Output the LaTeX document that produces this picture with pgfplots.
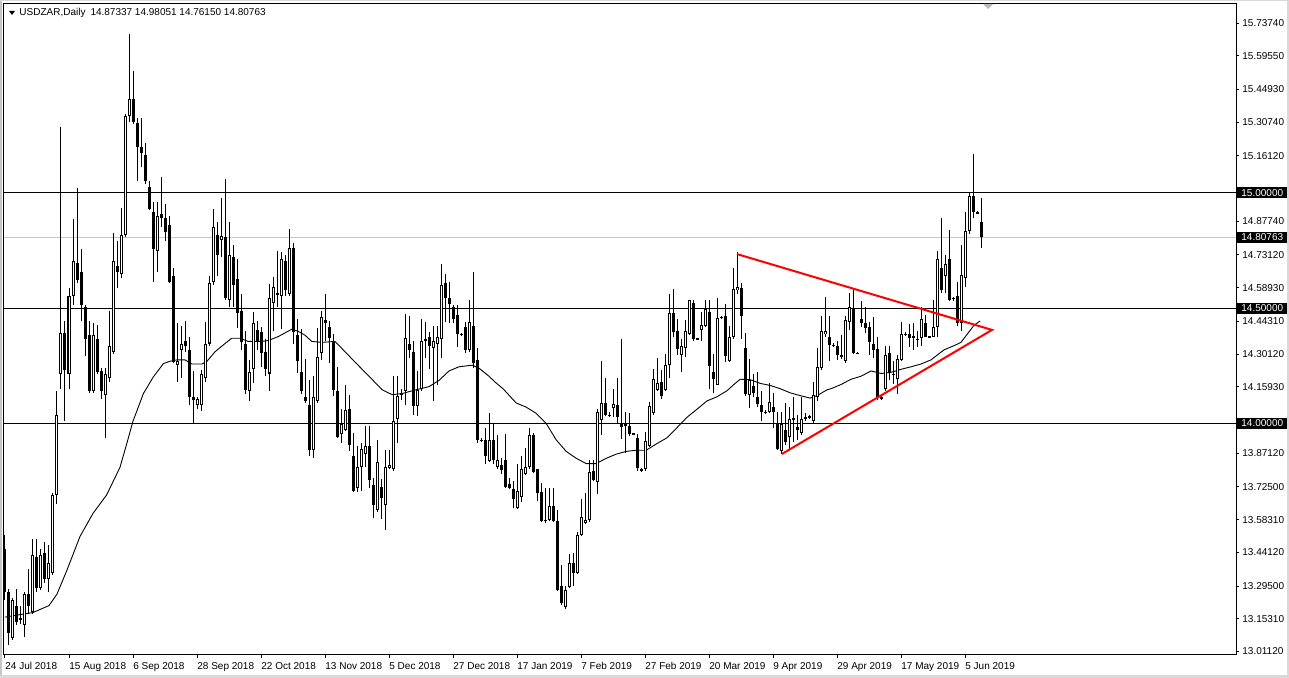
\documentclass[border=0pt]{standalone}
\usepackage{fontspec}
\setmainfont{Liberation Sans}
\usepackage{pgfplots}
\usepackage{pgfplotstable}
\pgfplotsset{compat=1.18}

% daily bars: index, open, high, low, close
\pgfplotstableread{
i O H L C
0 13.457 13.516 13.235 13.270
1 13.270 13.280 13.039 13.093
2 13.071 13.244 13.060 13.235
3 13.208 13.280 13.128 13.137
4 13.155 13.210 13.128 13.146
5 13.128 13.270 13.075 13.262
6 13.262 13.368 13.172 13.208
7 13.181 13.500 13.172 13.431
8 13.420 13.500 13.270 13.288
9 13.288 13.457 13.279 13.431
10 13.440 13.484 13.306 13.324
11 13.324 13.475 13.270 13.395
12 13.351 13.698 13.342 13.689
13 13.689 14.142 13.653 14.036
14 14.214 15.285 14.151 14.391
15 14.391 14.445 14.009 14.231
16 14.214 14.590 14.151 14.552
17 14.552 14.886 14.516 14.703
18 14.698 15.023 14.609 14.623
19 14.658 14.756 14.445 14.516
20 14.507 14.516 14.294 14.365
21 14.383 14.445 14.133 14.142
22 14.142 14.436 14.133 14.383
23 14.365 14.427 14.214 14.222
24 14.228 14.240 14.107 14.142
25 14.125 14.240 13.938 14.214
26 14.196 14.489 14.178 14.338
27 14.311 14.827 14.302 14.703
28 14.685 14.792 14.587 14.658
29 14.649 14.934 14.632 14.819
30 14.819 15.343 14.810 15.335
31 15.335 15.690 15.308 15.406
32 15.406 15.530 15.299 15.308
33 15.302 15.326 15.050 15.201
34 15.201 15.326 15.112 15.174
35 15.165 15.219 15.041 15.050
36 15.028 15.050 14.925 14.929
37 14.916 14.961 14.614 14.756
38 14.747 14.961 14.658 14.899
39 14.907 15.068 14.854 14.893
40 14.893 14.952 14.790 14.830
41 14.860 14.899 14.609 14.614
42 14.641 14.673 14.263 14.267
43 14.253 14.436 14.178 14.270
44 14.317 14.423 14.196 14.347
45 14.356 14.445 14.311 14.338
46 14.317 14.377 14.080 14.116
47 14.116 14.228 14.000 14.103
48 14.080 14.116 14.062 14.107
49 14.080 14.231 14.053 14.214
50 14.199 14.441 14.178 14.347
51 14.347 14.641 14.338 14.609
52 14.614 14.929 14.601 14.851
53 14.819 14.872 14.641 14.733
54 14.795 14.979 14.721 14.815
55 14.810 15.059 14.534 14.543
56 14.534 14.872 14.507 14.730
57 14.724 14.774 14.507 14.601
58 14.628 14.712 14.413 14.480
59 14.489 14.560 14.317 14.352
60 14.347 14.400 14.128 14.146
61 14.139 14.276 14.098 14.222
62 14.235 14.484 14.174 14.436
63 14.406 14.445 14.320 14.352
64 14.395 14.418 14.246 14.306
65 14.311 14.365 14.205 14.235
66 14.217 14.605 14.139 14.543
67 14.521 14.637 14.400 14.591
68 14.566 14.747 14.507 14.559
69 14.552 14.744 14.409 14.712
70 14.706 14.730 14.552 14.578
71 14.560 14.845 14.552 14.762
72 14.762 14.783 14.347 14.395
73 14.383 14.454 14.217 14.270
74 14.222 14.409 14.128 14.139
75 14.116 14.279 14.089 14.098
76 14.080 14.187 13.858 13.884
77 13.884 14.205 13.849 14.116
78 14.098 14.413 14.089 14.288
79 14.306 14.489 14.276 14.463
80 14.450 14.560 14.356 14.436
81 14.418 14.445 14.263 14.370
82 14.356 14.388 14.121 14.146
83 14.139 14.246 13.938 13.943
84 13.956 14.062 13.915 14.000
85 13.973 14.165 13.968 14.057
86 14.062 14.125 13.879 13.907
87 13.861 13.961 13.701 13.706
88 13.719 13.902 13.701 13.813
89 13.813 13.915 13.706 13.890
90 13.867 13.991 13.813 13.902
91 13.902 13.991 13.719 13.754
92 13.733 13.765 13.591 13.648
93 13.626 13.929 13.617 13.831
94 13.724 13.760 13.587 13.676
95 13.648 13.884 13.537 13.813
96 13.808 13.884 13.804 13.822
97 13.804 14.205 13.795 14.009
98 14.021 14.205 13.915 14.121
99 14.128 14.150 14.100 14.130
100 14.139 14.477 14.080 14.370
101 14.347 14.466 14.285 14.320
102 14.311 14.356 14.036 14.075
103 14.075 14.228 14.032 14.146
104 14.151 14.454 14.142 14.356
105 14.363 14.441 14.285 14.365
106 14.374 14.395 14.235 14.338
107 14.329 14.423 14.098 14.356
108 14.347 14.423 14.169 14.377
109 14.365 14.690 14.285 14.601
110 14.609 14.649 14.441 14.543
111 14.543 14.614 14.436 14.520
112 14.507 14.516 14.436 14.454
113 14.472 14.516 14.334 14.388
114 14.390 14.392 14.381 14.386
115 14.418 14.441 14.306 14.317
116 14.317 14.537 14.311 14.441
117 14.423 14.658 14.240 14.263
118 14.276 14.329 13.915 13.929
119 13.929 13.938 13.920 13.925
120 13.929 13.982 13.826 13.861
121 13.836 14.044 13.831 13.929
122 13.929 14.000 13.826 13.840
123 13.813 13.950 13.804 13.840
124 13.818 13.850 13.780 13.800
125 13.843 13.955 13.719 13.724
126 13.737 13.765 13.715 13.719
127 13.715 13.751 13.635 13.671
128 13.635 13.826 13.630 13.706
129 13.683 13.861 13.658 13.804
130 13.783 13.893 13.778 13.813
131 13.813 13.979 13.804 13.950
132 13.950 13.961 13.786 13.790
133 13.801 13.804 13.665 13.698
134 13.701 13.742 13.573 13.577
135 13.582 13.719 13.570 13.577
136 13.582 13.719 13.577 13.641
137 13.641 13.719 13.573 13.577
138 13.577 13.626 13.274 13.279
139 13.297 13.386 13.214 13.221
140 13.203 13.297 13.196 13.279
141 13.292 13.434 13.285 13.395
142 13.395 13.440 13.297 13.351
143 13.351 13.528 13.346 13.516
144 13.516 13.671 13.511 13.594
145 13.569 13.698 13.564 13.582
146 13.582 13.840 13.573 13.790
147 13.795 13.843 13.751 13.754
148 13.747 14.062 13.694 14.050
149 14.014 14.270 13.950 14.089
150 14.089 14.196 14.032 14.039
151 14.039 14.050 14.030 14.034
152 14.068 14.151 14.027 14.085
153 14.080 14.196 14.000 14.027
154 13.996 14.365 13.932 13.986
155 13.996 14.050 13.872 13.991
156 13.991 14.044 13.947 13.956
157 13.956 13.960 13.950 13.954
158 13.938 13.956 13.795 13.808
159 13.795 13.808 13.790 13.804
160 13.804 13.964 13.795 13.925
161 13.902 14.093 13.897 14.075
162 14.044 14.235 14.036 14.192
163 14.146 14.285 14.139 14.174
164 14.178 14.231 14.107 14.121
165 14.146 14.302 14.139 14.253
166 14.253 14.560 14.199 14.480
167 14.480 14.584 14.377 14.395
168 14.400 14.454 14.299 14.324
169 14.299 14.365 14.222 14.338
170 14.329 14.448 14.288 14.400
171 14.388 14.537 14.383 14.534
172 14.525 14.537 14.356 14.365
173 14.370 14.372 14.365 14.367
174 14.406 14.484 14.356 14.427
175 14.423 14.534 14.418 14.495
176 14.484 14.534 14.151 14.249
177 14.222 14.302 14.133 14.192
178 14.169 14.543 14.169 14.459
179 14.463 14.466 14.455 14.459
180 14.466 14.520 14.267 14.294
181 14.270 14.423 14.265 14.374
182 14.377 14.673 14.365 14.584
183 14.578 14.744 14.560 14.591
184 14.587 14.609 14.365 14.466
185 14.329 14.391 14.121 14.128
186 14.125 14.281 14.068 14.187
187 14.164 14.214 14.116 14.133
188 14.116 14.222 14.071 14.085
189 14.080 14.142 14.009 14.050
190 14.050 14.060 14.040 14.046
191 14.050 14.174 14.044 14.093
192 14.071 14.133 13.982 14.050
193 14.000 14.050 13.884 13.890
194 13.879 14.050 13.867 13.996
195 13.973 14.089 13.907 13.920
196 13.943 14.071 13.884 14.021
197 14.021 14.116 13.920 14.018
198 13.986 14.039 13.929 13.973
199 13.960 14.116 13.950 14.018
200 14.027 14.044 14.009 14.021
201 14.027 14.036 14.020 14.030
202 14.009 14.178 14.000 14.125
203 14.116 14.329 14.098 14.246
204 14.240 14.466 14.231 14.400
205 14.388 14.548 14.377 14.400
206 14.377 14.466 14.270 14.342
207 14.342 14.350 14.330 14.338
208 14.338 14.356 14.276 14.299
209 14.295 14.384 14.280 14.292
210 14.270 14.466 14.263 14.448
211 14.441 14.566 14.406 14.507
212 14.498 14.587 14.302 14.306
213 14.306 14.310 14.300 14.304
214 14.454 14.530 14.418 14.436
215 14.436 14.507 14.391 14.413
216 14.418 14.441 14.299 14.352
217 14.347 14.463 14.285 14.317
218 14.324 14.374 14.103 14.116
219 14.116 14.120 14.100 14.107
220 14.151 14.338 14.139 14.299
221 14.306 14.338 14.187 14.222
222 14.216 14.270 14.170 14.212
223 14.192 14.299 14.128 14.281
224 14.276 14.441 14.270 14.388
225 14.388 14.395 14.378 14.385
226 14.388 14.431 14.334 14.370
227 14.377 14.434 14.320 14.375
228 14.366 14.400 14.330 14.364
229 14.370 14.507 14.338 14.454
230 14.436 14.472 14.374 14.377
231 14.377 14.380 14.370 14.375
232 14.374 14.534 14.374 14.418
233 14.418 14.747 14.374 14.715
234 14.673 14.890 14.566 14.578
235 14.641 14.733 14.566 14.694
236 14.715 14.840 14.530 14.537
237 14.545 14.550 14.530 14.542
238 14.552 14.614 14.423 14.436
239 14.436 14.774 14.400 14.644
240 14.632 14.916 14.591 14.836
241 14.836 15.005 14.822 14.988
242 14.988 15.169 14.890 14.916
243 14.916 14.920 14.910 14.914
244 14.87337 14.98051 14.76150 14.80763
}\candles

\newcommand\mtfont{\fontsize{5}{6}\selectfont}

\begin{document}
\begin{tikzpicture}[x=0.5pt,y=0.5pt,font=\mtfont]
% window (1 unit = 1 px of the reference)
\fill[white] (0,0) rectangle (1289,678);
\fill[gray!45] (0,0) rectangle (2,678);
\fill[gray!30] (0,0) rectangle (1289,3);
\fill[gray!30] (0,677) rectangle (1289,678);
\fill[gray!30] (1287,0) rectangle (1289,678);

\begin{axis}[
  name=ax, at={(2pt,11.5pt)}, anchor=south west,
  scale only axis, width=616pt, height=325.5pt,
  xmin=-0.25, xmax=307.75, ymin=12.9957, ymax=15.82,
  axis line style={line width=0.5pt},
  tick align=outside, major tick length=1.5pt,
  every tick/.style={black, line width=0.5pt},
  xtick pos=bottom, ytick pos=right, yticklabel pos=right,
  tick label style={font=\mtfont, black},
  xtick={0,16,...,240},
  xticklabels={24 Jul 2018, 15 Aug 2018, 6 Sep 2018, 28 Sep 2018, 22 Oct 2018,
    13 Nov 2018, 5 Dec 2018, 27 Dec 2018, 17 Jan 2019, 7 Feb 2019, 27 Feb 2019,
    20 Mar 2019, 9 Apr 2019, 29 Apr 2019, 17 May 2019, 5 Jun 2019},
  xticklabel style={anchor=north west, inner sep=0pt, xshift=0pt, yshift=-2pt},
  ytick={15.7374,15.5955,15.4493,15.3074,15.1612,14.8774,14.7312,14.5893,
    14.4431,14.3012,14.1593,13.8712,13.7250,13.5831,13.4412,13.2950,13.1531,13.0112},
  yticklabels={15.73740,15.59550,15.44930,15.30740,15.16120,14.87740,14.73120,
    14.58930,14.44310,14.30120,14.15930,13.87120,13.72500,13.58310,13.44120,
    13.29500,13.15310,13.01120},
  yticklabel style={anchor=west, inner sep=0pt, xshift=1.5pt},
]
% horizontal levels
\addplot[black, line width=0.5pt] coordinates {(-0.25,15) (307.75,15)};
\addplot[black, line width=0.5pt] coordinates {(-0.25,14.5) (307.75,14.5)};
\addplot[black, line width=0.5pt] coordinates {(-0.25,14) (307.75,14)};
\addplot[gray!45, line width=0.5pt] coordinates {(-0.25,14.80763) (307.75,14.80763)};

% moving average
\addplot[black, line width=0.45pt] coordinates {
(0,13.16) (7,13.18) (11,13.21) (13,13.26) (15.4,13.36) (18.75,13.51) (22,13.61)
(25.4,13.69) (28.75,13.81) (30.4,13.91) (32,14.01) (34.6,14.13) (37,14.2)
(39.6,14.26) (41.25,14.27) (43,14.276) (45,14.276) (46.7,14.258) (49.2,14.258)
(50.5,14.27) (52.5,14.311) (55,14.347) (56.7,14.37) (58.75,14.37) (60.8,14.356)
(64.2,14.356) (65.8,14.36) (68.3,14.377) (71.7,14.409) (73.3,14.4) (75,14.383)
(76.7,14.356) (79.2,14.352) (82.5,14.356) (84.3,14.324) (87.7,14.263) (91,14.205)
(94.3,14.146) (96.8,14.125) (99.3,14.13) (102.7,14.146) (106,14.16) (108.5,14.187)
(111,14.228) (113.5,14.246) (116.8,14.253) (118.5,14.24) (121,14.205) (122.5,14.18)
(124.5,14.151) (127.8,14.089) (130.3,14.071) (132.8,14.044) (135.3,14.0)
(137.8,13.929) (140.3,13.879) (142.8,13.849) (145.3,13.826) (147.8,13.826)
(150.3,13.849) (152.8,13.867) (155.3,13.879) (157.8,13.884) (160.3,13.884)
(162.8,13.911) (165.5,13.938) (168,13.982) (170.5,14.027) (173,14.062)
(175.5,14.098) (178,14.116) (180.5,14.142) (182.2,14.169) (183.8,14.192)
(186.3,14.19) (188.8,14.174) (191.3,14.165) (193.8,14.151) (196.3,14.133)
(198.8,14.121) (201.3,14.11) (203,14.121) (205.5,14.146) (206.5,14.151)
(209,14.169) (211.5,14.192) (214,14.205) (216.5,14.228) (219,14.217)
(221.5,14.222) (224,14.235) (226.5,14.246) (229,14.258) (231.5,14.276)
(233.2,14.299) (234.8,14.32) (237.3,14.338) (239,14.352) (240.7,14.391)
(242.3,14.427) (243.8,14.445)
};

% wicks
\addplot[draw=none, mark=none,
  error bars/.cd, y dir=both, y explicit, error mark=none,
  error bar style={draw=black, line width=0.5pt}]
  table[x=i, y expr={(\thisrow{H}+\thisrow{L})/2},
        y error expr={(\thisrow{H}-\thisrow{L})/2}] {\candles};
% bodies
\addplot[draw=none, mark=none,
  error bars/.cd, y dir=both, y explicit, error mark=none,
  error bar style={draw=black, line width=1.5pt}]
  table[x=i, y expr={(\thisrow{O}+\thisrow{C})/2},
        y error expr={max(abs(\thisrow{O}-\thisrow{C})/2,0.0022)}] {\candles};
% hollow inside of rising bars
\addplot[draw=none, mark=none, restrict y to domain=12:17,
  error bars/.cd, y dir=both, y explicit, error mark=none,
  error bar style={draw=white, line width=0.5pt}]
  table[x=i, y expr={ifthenelse(\thisrow{C}-\thisrow{O}>0.009,(\thisrow{O}+\thisrow{C})/2,20)},
        y error expr={max(abs(\thisrow{C}-\thisrow{O})/2-0.0044,0.0001)}] {\candles};

% triangle
\addplot[red, line width=1pt] coordinates {(183,14.735) (246.75,14.406) (194.25,13.868)};

\coordinate (b1) at (axis cs:307.75,15);
\coordinate (b2) at (axis cs:307.75,14.80763);
\coordinate (b3) at (axis cs:307.75,14.5);
\coordinate (b4) at (axis cs:307.75,14);
\end{axis}

\foreach \c/\t in {b1/15.00000, b2/14.80763, b3/14.50000, b4/14.00000}
  \node[fill=black, text=white, anchor=west, inner xsep=2pt, inner ysep=0pt,
        minimum height=5.5pt] at ([xshift=0.5pt]\c) {\t};

% header
\fill[black] (9,667) -- (15,667) -- (12,663) -- cycle;
\node[anchor=west, inner sep=0pt] at (19,665.5) {USDZAR,Daily\hspace{2.5pt}14.87337 14.98051 14.76150 14.80763};
% chart shift marker
\fill[gray!55] (983,674) -- (993,674) -- (988,669) -- cycle;
\end{tikzpicture}
\end{document}
